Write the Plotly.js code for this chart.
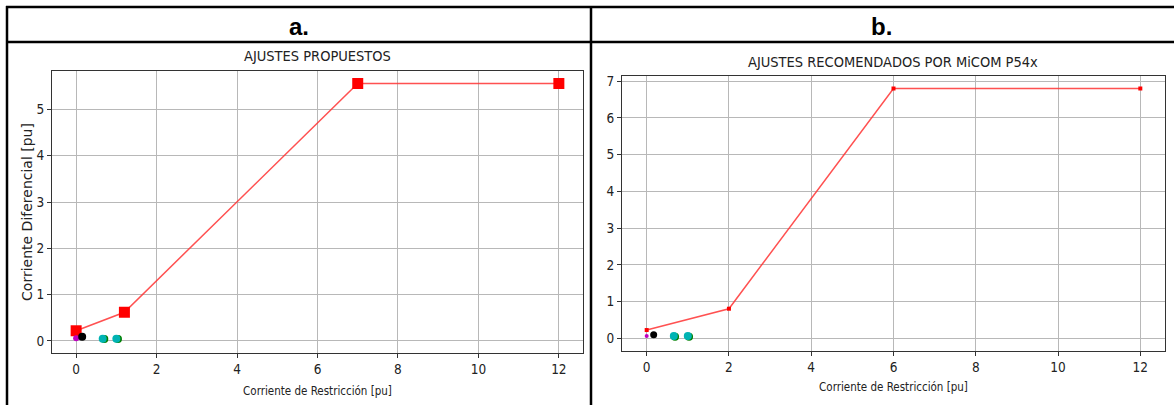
<!DOCTYPE html>
<html>
<head>
<meta charset="utf-8">
<script src="https://cdn.plot.ly/plotly-3.0.1.min.js"></script>
<style>
  html, body { margin: 0; padding: 0; background: #fff; }
  #chart { width: 1174px; height: 405px; }
</style>
</head>
<body>
<div id="chart"></div>
<script>
// ---- data ----
const panelLabels = ["a.", "b."];
const titleA = "AJUSTES PROPUESTOS";
const titleB = "AJUSTES RECOMENDADOS POR MiCOM P54x";
const xTitle = "Corriente de Restricción [pu]";
const yTitle = "Corriente Diferencial [pu]";

// Panel a: characteristic
const charAx = [0, 1.2, 7, 12];
const charAy = [0.22, 0.62, 5.56, 5.56];
// Panel a: measured points
const magAx = [0], magAy = [0.06];
const blkAx = [0.15], blkAy = [0.09];
const grnAx = [0.70, 1.04], grnAy = [0.04, 0.04];
const cyaAx = [0.66, 1.00], cyaAy = [0.05, 0.05];

// Panel b: characteristic
const charBx = [0, 2, 6, 12];
const charBy = [0.23, 0.81, 6.8, 6.8];
// Panel b: measured points
const magBx = [0], magBy = [0.07];
const blkBx = [0.17], blkBy = [0.10];
const grnBx = [0.69, 1.03], grnBy = [0.05, 0.05];
const cyaBx = [0.66, 1.00], cyaBy = [0.07, 0.07];

const xTicks = [0, 2, 4, 6, 8, 10, 12];
const yTicksA = [0, 1, 2, 3, 4, 5];
const yTicksB = [0, 1, 2, 3, 4, 5, 6, 7];

// ---- helpers ----
const W = 1174, H = 405;
const px = v => v / W;
const py = v => 1 - v / H;
const FONT = "DejaVu Sans Condensed, Liberation Sans Narrow, DejaVu Sans, sans-serif";
const RED_LINE = "rgba(255,50,50,0.85)";

function pts(x, y, color, size, xa, ya) {
  return { x, y, type: "scatter", mode: "markers", xaxis: xa, yaxis: ya,
    marker: { color, size, line: { width: 0 } }, hoverinfo: "skip", showlegend: false };
}

const traces = [
  { x: charAx, y: charAy, type: "scatter", mode: "lines+markers", xaxis: "x", yaxis: "y",
    line: { color: RED_LINE, width: 1.5 },
    marker: { symbol: "square", color: "#ff0000", size: 11 }, showlegend: false },
  pts(magAx, magAy, "#bf00bf", 6, "x", "y"),
  pts(blkAx, blkAy, "#000000", 8, "x", "y"),
  pts(grnAx, grnAy, "#008000", 8, "x", "y"),
  pts(cyaAx, cyaAy, "#00b3b3", 8, "x", "y"),

  { x: charBx, y: charBy, type: "scatter", mode: "lines+markers", xaxis: "x2", yaxis: "y2",
    line: { color: RED_LINE, width: 1.5 },
    marker: { symbol: "square", color: "#ff0000", size: 4 }, showlegend: false },
  pts(magBx, magBy, "#bf00bf", 4, "x2", "y2"),
  pts(blkBx, blkBy, "#000000", 7, "x2", "y2"),
  pts(grnBx, grnBy, "#008000", 8, "x2", "y2"),
  pts(cyaBx, cyaBy, "#00b3b3", 8, "x2", "y2"),
];

const axisCommon = {
  showline: true, mirror: true, linecolor: "#333", linewidth: 1,
  ticks: "outside", ticklen: 4, tickcolor: "#333", tickwidth: 1,
  showgrid: true, gridcolor: "#b8b8b8", gridwidth: 1,
  zeroline: false, tickfont: { family: FONT, size: 13.5, color: "#222" },
  fixedrange: true
};

const layout = {
  width: W, height: H,
  margin: { l: 0, r: 0, t: 0, b: 0 },
  paper_bgcolor: "#fff", plot_bgcolor: "#fff",
  showlegend: false,
  xaxis: Object.assign({}, axisCommon, {
    domain: [px(52), px(583)], range: [-0.6, 12.6], tickvals: xTicks, anchor: "y",
    title: { text: xTitle, font: { family: FONT, size: 11.5, color: "#222" }, standoff: 10 }
  }),
  yaxis: Object.assign({}, axisCommon, {
    domain: [py(353), py(71)], range: [-0.26, 5.83], tickvals: yTicksA, anchor: "x",
    title: { text: yTitle, font: { family: "DejaVu Sans, sans-serif", size: 14, color: "#222" }, standoff: 0 }
  }),
  xaxis2: Object.assign({}, axisCommon, {
    domain: [px(622), px(1165)], range: [-0.6, 12.6], tickvals: xTicks, anchor: "y2",
    title: { text: xTitle, font: { family: FONT, size: 11.5, color: "#222" }, standoff: 8 }
  }),
  yaxis2: Object.assign({}, axisCommon, {
    domain: [py(351), py(76)], range: [-0.34, 7.14], tickvals: yTicksB, anchor: "x2"
  }),
  annotations: [
    { text: "<b>" + panelLabels[0] + "</b>", xref: "paper", yref: "paper", x: px(299), y: py(26),
      xanchor: "center", yanchor: "middle",
      showarrow: false, font: { family: "Liberation Sans, Arial, sans-serif", size: 24, color: "#000" } },
    { text: "<b>" + panelLabels[1] + "</b>", xref: "paper", yref: "paper", x: px(881), y: py(26),
      xanchor: "center", yanchor: "middle",
      showarrow: false, font: { family: "Liberation Sans, Arial, sans-serif", size: 24, color: "#000" } },
    { text: titleA, xref: "paper", yref: "paper", x: px(317), y: py(56),
      xanchor: "center", yanchor: "middle",
      showarrow: false, font: { family: FONT, size: 14.5, color: "#222" } },
    { text: titleB, xref: "paper", yref: "paper", x: px(893), y: py(62),
      xanchor: "center", yanchor: "middle",
      showarrow: false, font: { family: FONT, size: 14.5, color: "#222" } }
  ],
  shapes: [
    { type: "line", xref: "paper", yref: "paper", x0: px(6), x1: 1, y0: py(7), y1: py(7), line: { color: "#000", width: 2.5 } },
    { type: "line", xref: "paper", yref: "paper", x0: px(6), x1: 1, y0: py(42), y1: py(42), line: { color: "#000", width: 2.5 } },
    { type: "line", xref: "paper", yref: "paper", x0: px(7), x1: px(7), y0: py(6), y1: 0, line: { color: "#000", width: 2.5 } },
    { type: "line", xref: "paper", yref: "paper", x0: px(591), x1: px(591), y0: py(6), y1: 0, line: { color: "#000", width: 2.5 } }
  ]
};

Plotly.newPlot("chart", traces, layout, { displayModeBar: false, staticPlot: true });
</script>
</body>
</html>
